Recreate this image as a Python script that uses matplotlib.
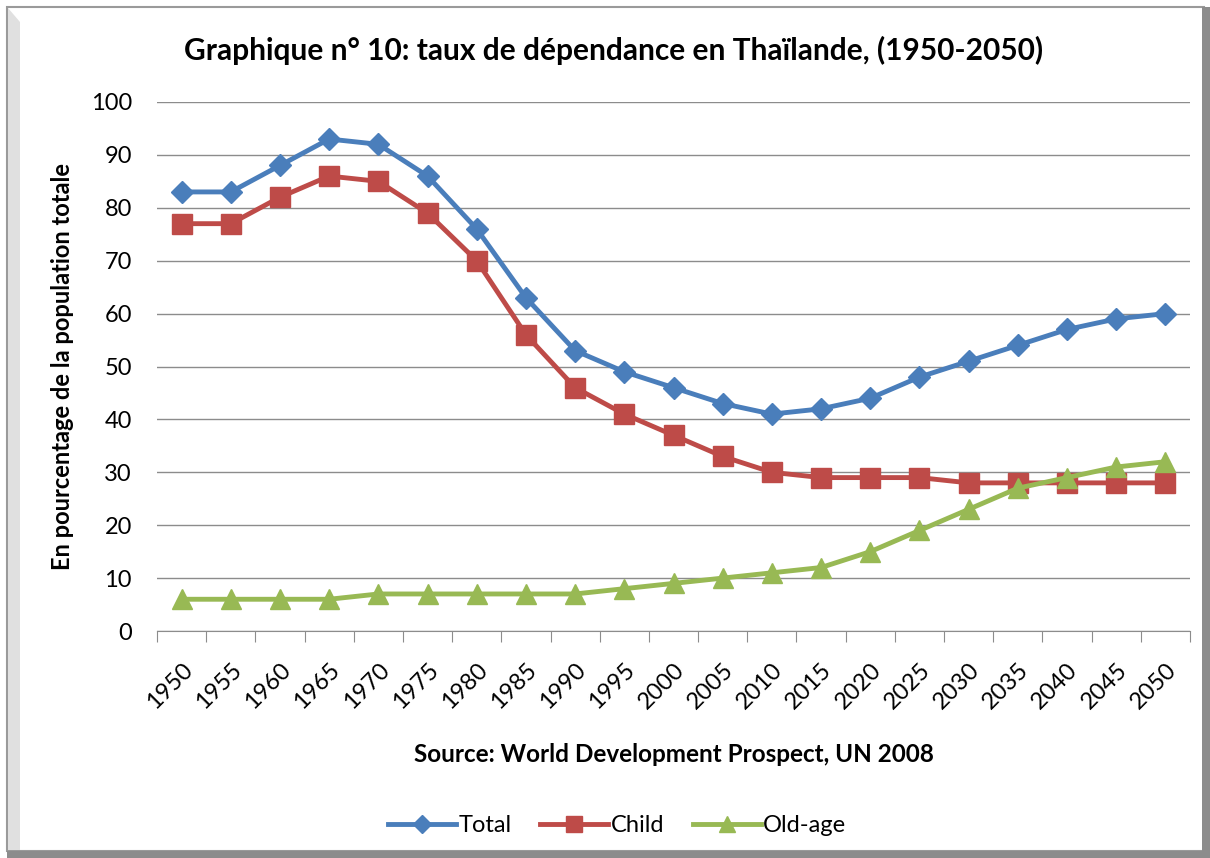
import numpy as np
import matplotlib.pyplot as plt
from matplotlib.patches import Rectangle, Polygon

plt.rcParams['font.family'] = ['Lato', 'DejaVu Sans']

annees = [str(a) for a in range(1950, 2051, 5)]
total = [83, 83, 88, 93, 92, 86, 76, 63, 53, 49, 46, 43, 41, 42, 44, 48, 51, 54, 57, 59, 60]
enfants = [77, 77, 82, 86, 85, 79, 70, 56, 46, 41, 37, 33, 30, 29, 29, 29, 28, 28, 28, 28, 28]
ages = [6, 6, 6, 6, 7, 7, 7, 7, 7, 8, 9, 10, 11, 12, 15, 19, 23, 27, 29, 31, 32]

W, H = 1210, 858
fig = plt.figure(figsize=(W / 100, H / 100), dpi=100)

# cadre façon Excel
fig.patches.append(Rectangle((7 / W, 7 / H), 1197 / W, 844 / H, transform=fig.transFigure,
                             facecolor='white', edgecolor='#9a9a9a', lw=1.5, zorder=-2))
fig.patches.append(Rectangle((1202 / W, 0), 8 / W, 851 / H, transform=fig.transFigure,
                             facecolor='#8c8c8c', edgecolor='none', zorder=-2))
fig.patches.append(Rectangle((7 / W, 0), 1203 / W, 7 / H, transform=fig.transFigure,
                             facecolor='#8c8c8c', edgecolor='none', zorder=-2))
fig.patches.append(Polygon([(8 / W, 1 - 8 / H), (20 / W, 1 - 22 / H), (20 / W, 8 / H), (8 / W, 8 / H)],
                           closed=True, transform=fig.transFigure,
                           facecolor='#e0e0e0', edgecolor='none', zorder=-2))

ax = fig.add_axes([157 / W, 1 - 631 / H, (1190 - 157) / W, (631 - 102) / H])
ax.set_zorder(1)
ax.set_facecolor('none')
x = np.arange(len(annees))

ax.plot(x, total, color='#4a7ebb', lw=3.5, marker='D', ms=11, label='Total', zorder=3)
ax.plot(x, enfants, color='#be4b48', lw=3.5, marker='s', ms=14, label='Child', zorder=3)
ax.plot(x, ages, color='#98b954', lw=3.5, marker='^', ms=14, label='Old-age', zorder=4)

ax.set_xlim(-0.5, len(annees) - 0.5)
ax.set_ylim(0, 100)
ax.set_yticks(range(0, 101, 10))
ax.yaxis.grid(True, color='#8c8c8c', lw=1)
ax.set_axisbelow(True)
ax.tick_params(axis='y', length=0, pad=18, labelsize=17)
ax.set_xticks(np.arange(-0.5, len(annees)), minor=False)
ax.set_xticklabels([])
ax.set_xticks(x, minor=True)
ax.set_xticklabels(annees, minor=True, rotation=45, ha='right', va='top',
                   rotation_mode='anchor', fontsize=17)
ax.tick_params(axis='x', which='major', length=8, color='#8c8c8c', direction='out')
ax.tick_params(axis='x', which='minor', length=0, pad=20)
for s in ['left', 'right', 'top']:
    ax.spines[s].set_visible(False)
ax.spines['bottom'].set_color('#8c8c8c')

ax.set_ylabel('En pourcentage de la population totale', fontsize=17, fontweight='bold', labelpad=12)

fig.text(614 / W, 1 - 50 / H, 'Graphique n° 10: taux de dépendance en Thaïlande, (1950-2050)',
         ha='center', va='center', fontsize=21.5, fontweight='bold')
fig.text(674 / W, 1 - 755 / H, 'Source: World Development Prospect, UN 2008',
         ha='center', va='center', fontsize=17.5, fontweight='bold')

fig.legend(loc='center', bbox_to_anchor=(617 / W, 1 - 826 / H), ncol=3, frameon=False,
           fontsize=17, handlelength=2.9, columnspacing=1.2, handletextpad=0.1,
           markerscale=0.8)

fig.savefig('out.png', dpi=100)
